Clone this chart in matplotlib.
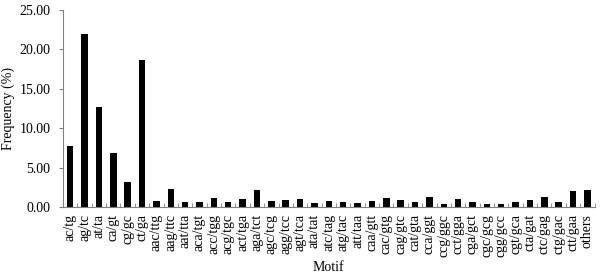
import matplotlib
matplotlib.use('Agg')
import matplotlib.pyplot as plt
import numpy as np

motifs = ['ac/tg', 'ag/tc', 'at/ta', 'ca/gt', 'cg/gc', 'ct/ga',
          'aac/ttg', 'aag/ttc', 'aat/tta', 'aca/tgt', 'acc/tgg', 'acg/tgc',
          'act/tga', 'aga/tct', 'agc/tcg', 'agg/tcc', 'agt/tca', 'ata/tat',
          'atc/tag', 'atg/tac', 'att/taa', 'caa/gtt', 'cac/gtg', 'cag/gtc',
          'cat/gta', 'cca/ggt', 'ccg/ggc', 'cct/gga', 'cga/gct', 'cgc/gcg',
          'cgg/gcc', 'cgt/gca', 'cta/gat', 'ctc/gag', 'ctg/gac', 'ctt/gaa',
          'others']
freq = [7.8, 21.9, 12.7, 6.9, 3.2, 18.7,
        0.8, 2.3, 0.6, 0.6, 1.1, 0.7,
        1.0, 2.2, 0.8, 0.9, 1.0, 0.5,
        0.8, 0.6, 0.5, 0.8, 1.1, 0.9,
        0.7, 1.3, 0.4, 1.0, 0.7, 0.4,
        0.4, 0.7, 0.9, 1.3, 0.7, 2.0,
        2.2]
yticks = [0, 5, 10, 15, 20, 25]

plt.rcParams['font.family'] = ['Liberation Serif', 'DejaVu Serif']

fig = plt.figure(figsize=(6, 2.75), dpi=100)
ax = fig.add_axes([0.105, 0.247, 0.886, 0.717])

x = np.arange(len(motifs))
ax.bar(x, freq, width=0.45, color='black')

ax.set_xlim(-0.5, len(motifs) - 0.5)
ax.set_ylim(0, 25)
ax.set_yticks(yticks)
ax.set_yticklabels([f'{v:.2f}' for v in yticks], fontsize=10)
ax.set_xticks(x)
ax.set_xticklabels(motifs, rotation=90, fontsize=10)
ax.tick_params(axis='x', length=0, pad=5)
ax.set_xticks(np.arange(len(motifs) + 1) - 0.5, minor=True)
ax.tick_params(axis='x', which='minor', length=3, direction='in', color='#808080')
ax.tick_params(axis='y', length=3, direction='out', color='#808080', pad=6)

for s in ['top', 'right']:
    ax.spines[s].set_visible(False)
ax.spines['left'].set_color('#808080')
ax.spines['bottom'].set_color('#808080')

ax.set_ylabel('Frequency (%)', fontsize=10)
ax.yaxis.set_label_coords(-0.09, 0.5)
ax.set_xlabel('Motif', fontsize=10, labelpad=3)

fig.savefig('out.png', dpi=100)
